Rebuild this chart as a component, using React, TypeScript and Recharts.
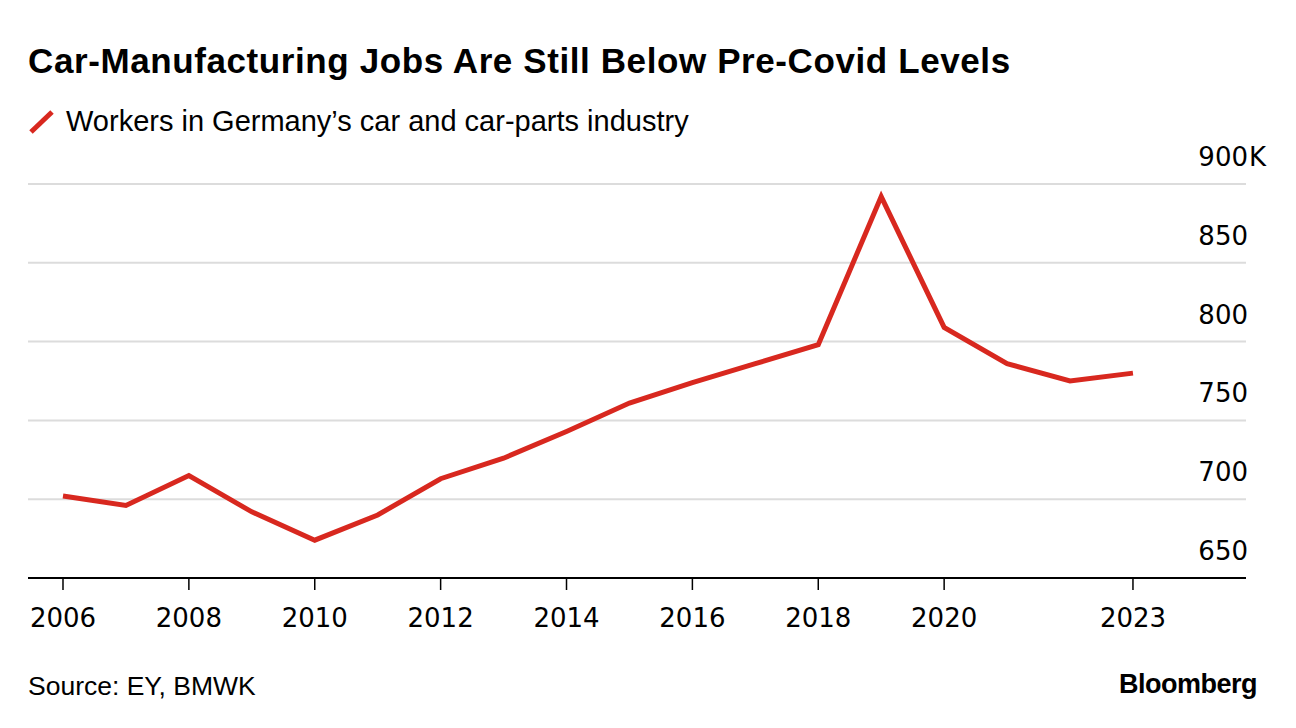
import React from "react";
import { LineChart, Line, XAxis, YAxis, CartesianGrid } from "recharts";

const years = [2006, 2007, 2008, 2009, 2010, 2011, 2012, 2013, 2014, 2015, 2016, 2017, 2018, 2019, 2020, 2021, 2022, 2023];
const workers = [702, 696, 715, 692, 674, 690, 713, 726, 743, 761, 774, 786, 798, 892, 809, 786, 775, 780];
const xTicks = [2006, 2008, 2010, 2012, 2014, 2016, 2018, 2020, 2023];
const yTicks = [650, 700, 750, 800, 850, 900];

const title = "Car-Manufacturing Jobs Are Still Below Pre-Covid Levels";
const legendLabel = "Workers in Germany\u2019s car and car-parts industry";
const source = "Source: EY, BMWK";

const data = years.map((y, i) => ({ year: y, workers: workers[i] }));

const RED = "#d8281f";
const FONT = "'Liberation Sans', Arial, sans-serif";
const NUMFONT = "'DejaVu Sans', sans-serif";

const YTick = (props: any) => {
  const { y, payload } = props;
  const v = payload.value;
  return (
    <g>
      <text x={1248} y={y - 18} textAnchor="end" fontFamily={NUMFONT} fontSize={26} fill="#000">
        {v}
      </text>
      {v === 900 ? (
        <text x={1249} y={y - 18} textAnchor="start" fontFamily={NUMFONT} fontSize={26} fill="#000">
          K
        </text>
      ) : null}
    </g>
  );
};

const XTick = (props: any) => {
  const { x, y, payload } = props;
  return (
    <text x={x} y={y + 35} textAnchor="middle" fontFamily={NUMFONT} fontSize={26} fill="#000">
      {payload.value}
    </text>
  );
};

export default function App() {
  return (
    <div style={{ position: "absolute", left: 0, top: 0, width: 1296, height: 728, background: "#fff", overflow: "hidden" }}>
      <div style={{ position: "absolute", left: 28, top: 41, fontFamily: FONT, fontWeight: 700, fontSize: 35, color: "#000", whiteSpace: "nowrap", letterSpacing: 0.6 }}>
        {title}
      </div>
      <svg style={{ position: "absolute", left: 28, top: 108 }} width={28} height={28}>
        <line x1={3} y1={24} x2={24} y2={4} stroke={RED} strokeWidth={5} />
      </svg>
      <div style={{ position: "absolute", left: 66, top: 105, fontFamily: FONT, fontSize: 29, color: "#000", whiteSpace: "nowrap" }}>
        {legendLabel}
      </div>
      <div style={{ position: "absolute", left: 0, top: 0 }}>
        <LineChart width={1296} height={728} data={data} margin={{ top: 184, right: 0, bottom: 90, left: 28 }}>
          <CartesianGrid vertical={false} stroke="#dcdcdc" strokeWidth={2} />
          <XAxis
            dataKey="year"
            type="number"
            domain={[2005.444, 2024.796]}
            ticks={xTicks}
            allowDataOverflow
            height={60}
            axisLine={{ stroke: "#000", strokeWidth: 2 }}
            tickLine={{ stroke: "#000", strokeWidth: 1.5 }}
            tickSize={12}
            tick={<XTick />}
            interval={0}
          />
          <YAxis
            orientation="right"
            domain={[650, 900]}
            ticks={yTicks}
            width={50}
            axisLine={false}
            tickLine={false}
            tick={<YTick />}
            interval={0}
          />
          <Line
            type="linear"
            dataKey="workers"
            stroke={RED}
            strokeWidth={5}
            dot={false}
            isAnimationActive={false}
          />
        </LineChart>
      </div>
      <div style={{ position: "absolute", left: 28, top: 671, fontFamily: FONT, fontSize: 26.5, color: "#000", whiteSpace: "nowrap" }}>
        {source}
      </div>
      <div style={{ position: "absolute", right: 39, top: 669, fontFamily: FONT, fontWeight: 700, fontSize: 27, color: "#000", whiteSpace: "nowrap", letterSpacing: -0.5 }}>
        Bloomberg
      </div>
    </div>
  );
}
